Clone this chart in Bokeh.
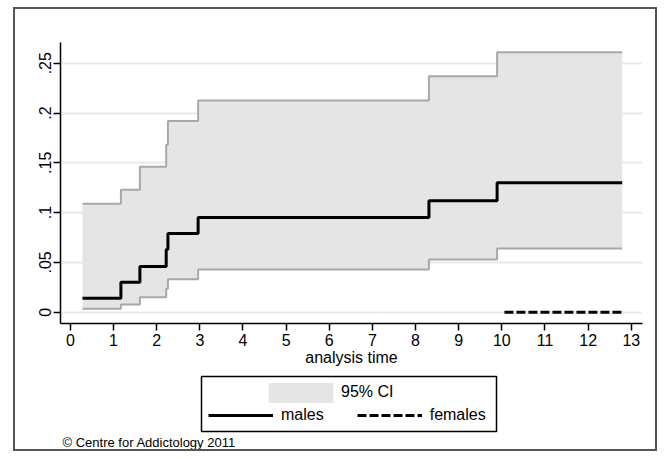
from bokeh.plotting import figure
from bokeh.layouts import column
from bokeh.models import Range1d, FixedTicker, Legend, LegendItem, BoxAnnotation, Label
from bokeh.embed import file_html
from bokeh.resources import INLINE

# ---- data ----
times = [0.28, 1.17, 1.61, 2.22, 2.26, 2.96, 8.31, 9.89, 12.79]
males = [0.014, 0.030, 0.046, 0.063, 0.079, 0.095, 0.112, 0.130, 0.130]
ci_upper = [0.109, 0.123, 0.146, 0.168, 0.192, 0.2125, 0.237, 0.261, 0.261]
ci_lower = [0.0035, 0.0077, 0.015, 0.0235, 0.033, 0.043, 0.053, 0.064, 0.064]
female_times = [10.06, 12.79]
females = [0.0, 0.0]
x_ticks = list(range(0, 14))
y_ticks = [0, 0.05, 0.1, 0.15, 0.2, 0.25]
y_tick_labels = ["0", ".05", ".1", ".15", ".2", ".25"]

FONT = "Liberation Sans"
CI_FILL = "#e5e5e5"
CI_EDGE = "#a8a8a8"
DASH = "9 3"

# ---------------- main plot ----------------
p = figure(width=640, height=364, frame_width=582, frame_height=281,
           min_border_left=45, min_border_right=13, min_border_top=33, min_border_bottom=50,
           x_range=Range1d(-0.23, 13.26), y_range=Range1d(-0.0113, 0.2708),
           output_backend="svg", toolbar_location=None,
           background_fill_color="white", border_fill_color="white")
p.outline_line_color = None

p.xgrid.visible = False
p.ygrid.ticker = FixedTicker(ticks=y_ticks)
p.ygrid.grid_line_color = "#e9e9e9"
p.ygrid.grid_line_width = 2

for ax in (p.xaxis[0], p.yaxis[0]):
    ax.axis_line_color = "black"
    ax.axis_line_width = 1.5
    ax.major_tick_line_color = "black"
    ax.major_tick_line_width = 1.5
    ax.major_tick_out = 7
    ax.major_tick_in = 0
    ax.minor_tick_line_color = None
    ax.major_label_text_font = FONT
    ax.major_label_text_font_size = "16px"
    ax.major_label_text_color = "black"

p.xaxis.ticker = FixedTicker(ticks=x_ticks)
p.xaxis.major_label_standoff = 3
p.xaxis.axis_label = "analysis time"
p.xaxis.axis_label_text_font = FONT
p.xaxis.axis_label_text_font_size = "16px"
p.xaxis.axis_label_text_font_style = "normal"
p.xaxis.axis_label_text_color = "black"
p.xaxis.axis_label_standoff = 0

p.yaxis.ticker = FixedTicker(ticks=y_ticks)
p.yaxis.major_label_overrides = dict(zip(y_ticks, y_tick_labels))
p.yaxis.major_label_orientation = "vertical"
p.yaxis.major_label_standoff = 2

p.varea_step(x=times, y1=ci_lower, y2=ci_upper, step_mode="after", fill_color=CI_FILL)
p.step(times, ci_upper, mode="after", line_color=CI_EDGE, line_width=2)
p.step(times, ci_lower, mode="after", line_color=CI_EDGE, line_width=2)
p.step(times, males, mode="after", line_color="black", line_width=3)
p.step(female_times, females, mode="after", line_color="black", line_width=3, line_dash=DASH)

# ---------------- legend / note strip (frame aligned with the plot above) ----------------
q = figure(width=640, height=76, frame_width=582, frame_height=76,
           min_border_left=45, min_border_right=13, min_border_top=0, min_border_bottom=0,
           x_range=Range1d(60, 642), y_range=Range1d(449, 373),
           x_axis_type=None, y_axis_type=None,
           output_backend="svg", toolbar_location=None,
           background_fill_color="white", border_fill_color="white")
q.outline_line_color = None

# legend keys: same series, styled like the plot; they fall outside this strip's ranges
k_ci = q.varea(x=times, y1=ci_lower, y2=ci_upper, fill_color=CI_FILL)
k_m = q.line(x=times, y=males, line_color="black", line_width=3)
k_f = q.line(x=female_times, y=females, line_color="black", line_width=3, line_dash=DASH)

q.add_layout(BoxAnnotation(left=201, right=496, top=376, bottom=431,
                           fill_alpha=0, line_color="black", line_alpha=1,
                           line_width=1.5))

common = dict(orientation="horizontal", padding=0, margin=0, border_line_color=None,
              background_fill_alpha=0, label_text_font=FONT, label_text_font_size="16px",
              label_text_color="black")
# area keys are drawn inset by 10% on each side, hence the larger glyph box
q.add_layout(Legend(items=[LegendItem(label="95% CI", renderers=[k_ci])],
                    location=(200, 44.5), glyph_width=81, glyph_height=25,
                    label_height=25, label_standoff=0, **common))
q.add_layout(Legend(items=[LegendItem(label="males", renderers=[k_m]),
                           LegendItem(label="females", renderers=[k_f])],
                    location=(148, 24), glyph_width=65, glyph_height=20,
                    label_height=20, spacing=33, label_standoff=8, **common))

q.add_layout(Label(x=62, y=442, text="\u00a9 Centre for Addictology 2011",
                   text_font=FONT, text_font_size="13px",
                   text_baseline="middle", text_color="black"))

layout = column(p, q, margin=(7, 0, 0, 13), spacing=0,
                styles={"border": "2px solid #555555"})

open("out.html", "w").write(file_html(layout, INLINE))
